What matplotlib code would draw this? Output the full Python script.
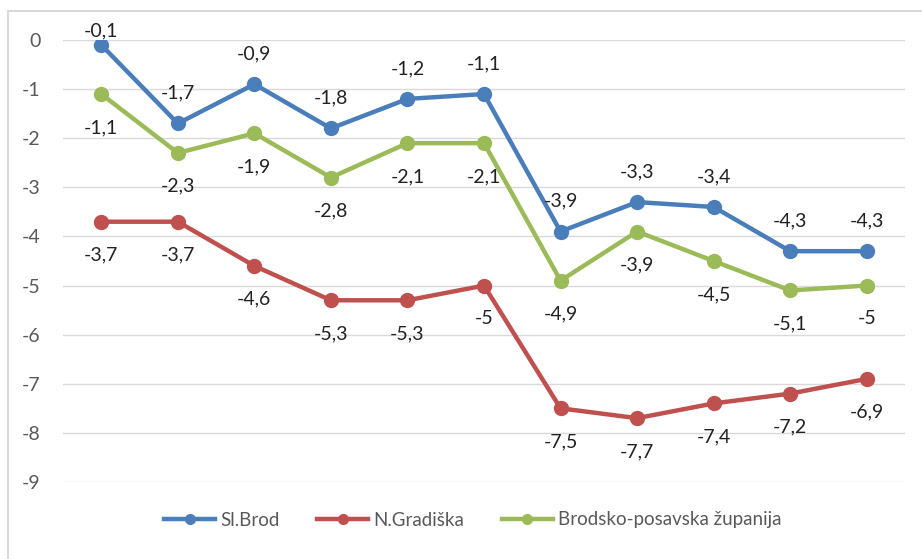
import matplotlib.pyplot as plt
from matplotlib.patches import Rectangle
from matplotlib.lines import Line2D

plt.rcParams['font.family'] = ['Lato', 'DejaVu Sans']
plt.rcParams['axes.unicode_minus'] = False

# ---- DATA ----
points = list(range(11))
sl_brod = [-0.1, -1.7, -0.9, -1.8, -1.2, -1.1, -3.9, -3.3, -3.4, -4.3, -4.3]
n_gradiska = [-3.7, -3.7, -4.6, -5.3, -5.3, -5.0, -7.5, -7.7, -7.4, -7.2, -6.9]
bpz = [-1.1, -2.3, -1.9, -2.8, -2.1, -2.1, -4.9, -3.9, -4.5, -5.1, -5.0]
y_ticks = [0, -1, -2, -3, -4, -5, -6, -7, -8, -9]

series = [
    ("Sl.Brod", sl_brod, "#4a7ebb", "above"),
    ("N.Gradiška", n_gradiska, "#c0504d", "below"),
    ("Brodsko-posavska županija", bpz, "#9bbb59", "below"),
]


def fmt(v):
    return ("%g" % v).replace(".", ",")


fig = plt.figure(figsize=(9.22, 5.59), dpi=100)
ax = fig.add_axes([63 / 922, 1 - 482 / 559, 842 / 922, 442 / 559])

# chart frame
fig.patches.append(Rectangle((8 / 922, -0.01), 1.0, 1 - 11 / 559 + 0.01,
                             transform=fig.transFigure, fill=False,
                             edgecolor="#d9d9d9", linewidth=1.5))

handles = []
for name, vals, col, pos in series:
    ax.plot(points, vals, color=col, lw=3.2, marker="o", ms=10,
            solid_capstyle="round")
    handles.append(Line2D([], [], color=col, lw=3.2, marker="o", ms=7,
                          label=name))
    for x, v in zip(points, vals):
        if pos == "above":
            ly = min(v + 0.62, 0.18)
        else:
            ly = v - 0.68
        ax.text(x, ly, fmt(v), ha="center", va="center", fontsize=14,
                color="#222222", clip_on=False)

ax.set_xlim(-0.5, 10.5)
ax.set_ylim(-9, 0)
ax.set_yticks(y_ticks)
ax.set_yticklabels([str(t) for t in y_ticks])
ax.set_xticks([])
ax.tick_params(axis="y", length=0, pad=16, labelsize=14, labelcolor="#595959")
ax.grid(axis="y", color="#d9d9d9", lw=1)
ax.set_axisbelow(True)
for s in ax.spines.values():
    s.set_visible(False)

fig.legend(handles=handles, loc="center",
           bbox_to_anchor=(473 / 922, 1 - 520 / 559),
           ncol=3, frameon=False, fontsize=13.5, handlelength=2.7,
           columnspacing=2.0, handletextpad=0.3, labelcolor="#595959")

fig.savefig("out.png", dpi=100)
